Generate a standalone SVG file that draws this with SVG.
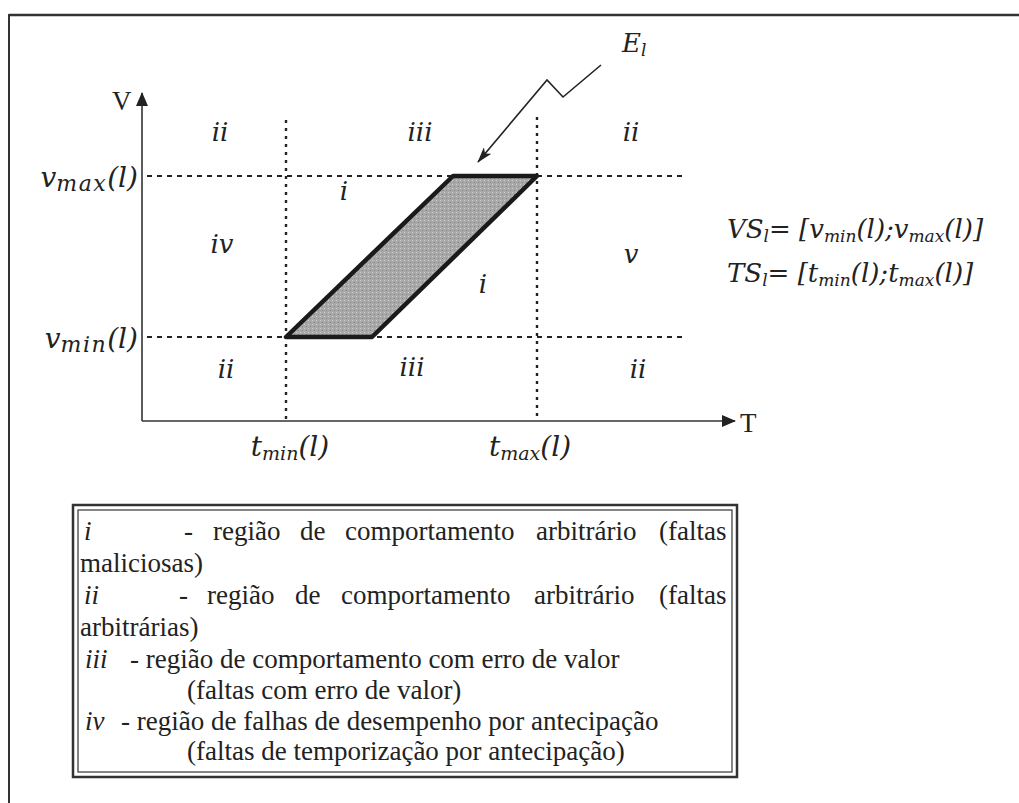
<svg xmlns="http://www.w3.org/2000/svg" width="1019" height="803" viewBox="0 0 1019 803">
<style>
.m{font-family:"DejaVu Serif","Liberation Serif",serif;font-style:italic;font-size:26px;fill:#222}
.ml{font-family:"DejaVu Serif","Liberation Serif",serif;font-style:italic;font-size:28px;fill:#222}
.s{font-size:17px}
.s2{font-size:19px}
.s3{font-size:22px;letter-spacing:1.5px}
.up{font-family:"Liberation Serif","Times New Roman",serif;font-size:27px;fill:#222}
.lg{font-family:"Liberation Serif","Times New Roman",serif;font-size:27px;fill:#222}
.lgi{font-family:"Liberation Serif","Times New Roman",serif;font-style:italic;font-size:27px;fill:#222}
.ax{stroke:#333;stroke-width:1.6;fill:none}
.dh{stroke:#222;stroke-width:2.2;stroke-dasharray:5 5;fill:none}
.dv{stroke:#222;stroke-width:2.4;stroke-dasharray:3 5;fill:none}
</style>
<defs>
<marker id="ah" markerWidth="14" markerHeight="12" refX="13" refY="6" orient="auto" markerUnits="userSpaceOnUse">
<path d="M0,0 L14,6 L0,12 Z" fill="#222"/>
</marker>
<marker id="ah2" markerWidth="16" markerHeight="10" refX="15" refY="5" orient="auto" markerUnits="userSpaceOnUse">
<path d="M0,0 L16,5 L0,10 L4,5 Z" fill="#222"/>
</marker>
<pattern id="tex" width="4" height="4" patternUnits="userSpaceOnUse">
<rect width="4" height="4" fill="#a8a8a8"/>
<rect x="0" y="0" width="1" height="1" fill="#d0d0d0"/>
<rect x="2" y="2" width="1" height="1" fill="#888"/>
</pattern>
</defs>
<rect width="1019" height="803" fill="#fff"/>
<g id="frame">
<line x1="9" y1="15" x2="1019" y2="15" stroke="#333" stroke-width="2.5"/>
<line x1="9" y1="14" x2="9" y2="803" stroke="#333" stroke-width="2"/>
</g>
<g id="connectors">
<line class="ax" x1="142" y1="421" x2="142" y2="93" marker-end="url(#ah)"/>
<line class="ax" x1="142" y1="421" x2="735" y2="421" marker-end="url(#ah)"/>
<line class="dh" x1="147" y1="176" x2="682" y2="176"/>
<line class="dh" x1="147" y1="337" x2="682" y2="337"/>
<line class="dv" x1="286" y1="120" x2="286" y2="421"/>
<line class="dv" x1="537" y1="117" x2="537" y2="421"/>
<polyline points="601,65 563,97 547,80 478,162" fill="none" stroke="#222" stroke-width="1.6" marker-end="url(#ah2)"/>
</g>
<g id="region-E">
<polygon points="286,337 372,337 537,176 453,176" fill="url(#tex)" stroke="#1a1a1a" stroke-width="4.5" stroke-linejoin="round"/>
</g>
<g id="axis-labels">
<text class="up" x="112" y="110">V</text>
<text class="up" x="740" y="432">T</text>
<text class="ml" x="138" y="187" text-anchor="end">v<tspan class="s3" dy="4">max</tspan><tspan dy="-4">(l)</tspan></text>
<text class="ml" x="138" y="348" text-anchor="end">v<tspan class="s3" dy="4">min</tspan><tspan dy="-4">(l)</tspan></text>
<text class="ml" x="290" y="456" text-anchor="middle">t<tspan class="s2" dy="4">min</tspan><tspan dy="-4">(l)</tspan></text>
<text class="ml" x="530" y="456" text-anchor="middle">t<tspan class="s2" dy="4">max</tspan><tspan dy="-4">(l)</tspan></text>
<text class="m" x="622" y="52">E<tspan class="s" dy="4">l</tspan></text>
</g>
<g id="regions">
<text class="m" x="220" y="141" text-anchor="middle">ii</text>
<text class="m" x="420" y="141" text-anchor="middle">iii</text>
<text class="m" x="631" y="141" text-anchor="middle">ii</text>
<text class="m" x="344" y="200" text-anchor="middle">i</text>
<text class="m" x="222" y="253" text-anchor="middle">iv</text>
<text class="m" x="483" y="293" text-anchor="middle">i</text>
<text class="m" x="631" y="263" text-anchor="middle">v</text>
<text class="m" x="226" y="378" text-anchor="middle">ii</text>
<text class="m" x="412" y="376" text-anchor="middle">iii</text>
<text class="m" x="638" y="378" text-anchor="middle">ii</text>
</g>
<g id="formulas">
<text class="m" x="727" y="238">VS<tspan class="s" dy="4">l</tspan><tspan dy="-4">= [v</tspan><tspan class="s" dy="4">min</tspan><tspan dy="-4">(l);v</tspan><tspan class="s" dy="4">max</tspan><tspan dy="-4">(l)]</tspan></text>
<text class="m" x="727" y="282">TS<tspan class="s" dy="4">l</tspan><tspan dy="-4">= [t</tspan><tspan class="s" dy="4">min</tspan><tspan dy="-4">(l);t</tspan><tspan class="s" dy="4">max</tspan><tspan dy="-4">(l)]</tspan></text>
</g>
<g id="legend">
<rect x="73" y="505" width="664" height="272" fill="none" stroke="#333" stroke-width="2.5"/>
<rect x="78" y="510" width="654" height="262" fill="none" stroke="#444" stroke-width="1.3"/>
<text class="lgi" x="84" y="540">i</text>
<text class="lg" y="540"><tspan x="184">-</tspan><tspan x="213">região</tspan><tspan x="300">de</tspan><tspan x="345">comportamento</tspan><tspan x="536">arbitrário</tspan><tspan x="659">(faltas</tspan></text>
<text class="lg" x="80" y="572">maliciosas)</text>
<text class="lgi" x="84" y="604">ii</text>
<text class="lg" y="604"><tspan x="179">-</tspan><tspan x="207">região</tspan><tspan x="295">de</tspan><tspan x="341">comportamento</tspan><tspan x="534">arbitrário</tspan><tspan x="659">(faltas</tspan></text>
<text class="lg" x="80" y="636">arbitrárias)</text>
<text class="lgi" x="85" y="668">iii</text>
<text class="lg" x="130" y="668">- região de comportamento com erro de valor</text>
<text class="lg" x="187" y="699">(faltas com erro de valor)</text>
<text class="lgi" x="85" y="730">iv</text>
<text class="lg" x="121" y="730">- região de falhas de desempenho por antecipação</text>
<text class="lg" x="187" y="760">(faltas de temporização por antecipação)</text>
</g>
</svg>
